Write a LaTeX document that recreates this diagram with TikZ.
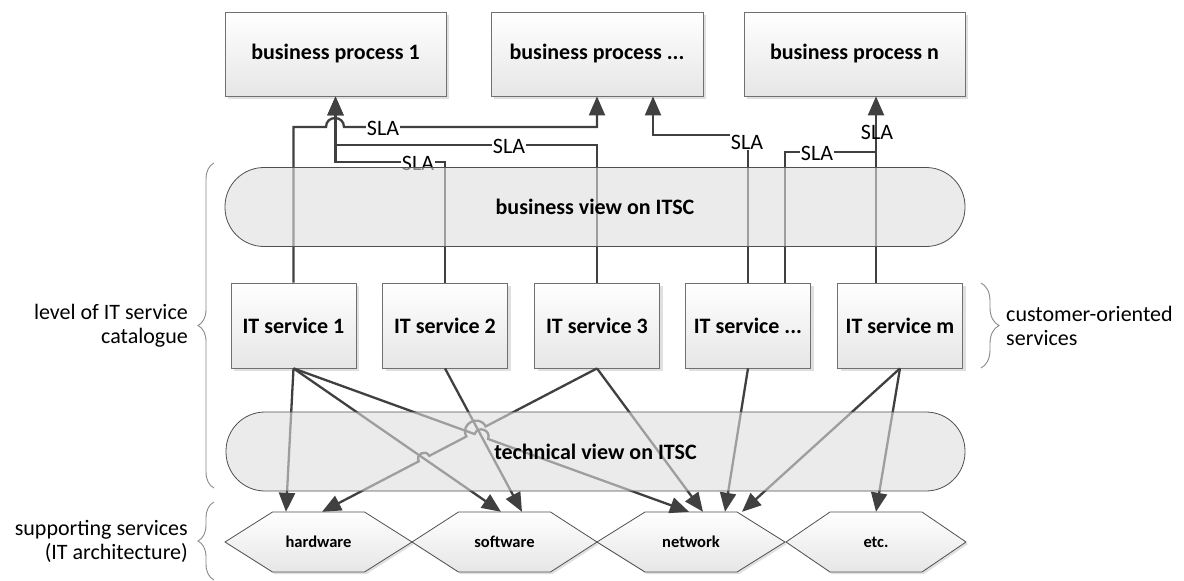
\documentclass[tikz,border=0pt]{standalone}
\usepackage{fontspec}
\setmainfont{Carlito}
\usetikzlibrary{arrows.meta,shadows,decorations.pathreplacing,calc}
\definecolor{linec}{HTML}{404040}
\definecolor{bordc}{HTML}{707070}
\definecolor{viewbord}{HTML}{505050}
\definecolor{boxbot}{HTML}{E6E6E6}
\definecolor{viewfill}{HTML}{DEDEDE}
\definecolor{bracec}{HTML}{8A8A8A}
\tikzset{
  box/.style={draw=bordc, line width=0.8pt, top color=white, bottom color=boxbot, inner sep=0pt,
    font=\bfseries\fontsize{22}{26}\selectfont,
    drop shadow={shadow xshift=3pt, shadow yshift=-3pt, opacity=0.12, fill=black}},
  bpbox/.style={box, minimum height=84pt},
  itbox/.style={box, minimum width=125pt, minimum height=85pt},
  viewbox/.style={draw=viewbord, line width=0.8pt, fill=viewfill, fill opacity=0.6, text opacity=1,
    rounded corners=39pt, minimum height=79pt, inner sep=0pt,
    font=\bfseries\fontsize{22}{26}\selectfont},
  hexfill/.style={draw=viewbord, line width=0.8pt, top color=white, bottom color=boxbot,
    drop shadow={shadow xshift=2pt, shadow yshift=-2pt, opacity=0.12, fill=black}},
  hexlabel/.style={inner sep=0pt, minimum width=92pt, minimum height=60pt,
    font=\bfseries\fontsize{16.5}{20}\selectfont},
  conn/.style={draw=linec, line width=2.3pt, -{Triangle[length=19pt,width=16pt]}},
  plainconn/.style={draw=linec, line width=2.3pt},
  slalab/.style={fill=white, inner sep=1pt, font=\fontsize{22}{26}\selectfont},
  slaclear/.style={inner sep=1pt, font=\fontsize{22}{26}\selectfont},
  sidelab/.style={font=\fontsize{22}{24}\selectfont, inner sep=0pt},
  bracedeco/.style={draw=bracec, line width=0.9pt, decorate, decoration={brace, amplitude=#1}},
  bumpl/.style={bend left=90, looseness=1.7},
  bumpr/.style={bend right=90, looseness=1.7},
}
\newcommand{\hexshape}[4]{%
  \path[hexfill] (#2-#3,542) -- (#2-46,512) -- (#2+46,512) -- (#2+#3,542) -- (#2+46,572) -- (#2-46,572) -- cycle;
  \node[hexlabel] (#1) at (#2,542) {#4};
}
\begin{document}
\begin{tikzpicture}[x=1pt,y=-1pt]
\useasboundingbox (0,0) rectangle (1184,581);
\fill[white] (0,0) rectangle (1184,581);

% business processes
\node[bpbox, minimum width=221pt] (bp1) at (335.5,54) {business process 1};
\node[bpbox, minimum width=212pt] (bp2) at (597,54) {business process ...};
\node[bpbox, minimum width=221pt] (bpn) at (854.5,54) {business process n};

% IT services
\node[itbox] (it1) at (293.5,325.5) {IT service 1};
\node[itbox] (it2) at (445,325.5) {IT service 2};
\node[itbox] (it3) at (597,325.5) {IT service 3};
\node[itbox] (it4) at (748,325.5) {IT service ...};
\node[itbox] (itm) at (900,325.5) {IT service m};

% supporting services
\hexshape{hw}{318.5}{93.5}{hardware}
\hexshape{sw}{504.5}{92.5}{software}
\hexshape{nw}{691}{94}{network}
\hexshape{etc}{876}{90}{etc.}

% SLA connectors
\coordinate (j2) at (335.5,162);
\coordinate (j3) at (335.5,145);
\coordinate (j4) at (748,135);
\coordinate (j5) at (876,152);
\draw[conn] (it1.north) |- (326,127) to[bumpl] (344,127) -| (bp2.south);
\draw[conn] (it3.north) |- (j3) -- (bp1.south);
\draw[conn] (it2.north) |- (j2) -- (bp1.south);
\draw[conn] (it4.north) |- (j4) -| ([xshift=56pt]bp2.south);
\draw[plainconn] ([xshift=37pt]it4.north) |- (j5);
\draw[conn] ([xshift=-24pt]itm.north) -- ([xshift=21.5pt]bpn.south);

\node[slalab] (s1) at (383,128) {SLA};
\node[slalab] (s2) at (509,146) {SLA};
\node[slalab] (s3) at (418,163) {SLA};
\node[slalab] (s4) at (747,142) {SLA};
\node[slalab] (s5) at (817,153) {SLA};
\node[slaclear] (s6) at (877,132) {SLA};

% dependency connectors
\coordinate (tE) at ([xshift=-32.5pt]hw.north);
\coordinate (tC) at ([xshift=3.5pt]hw.north);
\coordinate (tD) at ([xshift=-3.5pt]sw.north);
\coordinate (tB) at ([xshift=17.5pt]sw.north);
\coordinate (tA) at ([xshift=-2pt]nw.north);
\coordinate (tF) at ([xshift=12pt]nw.north);
\coordinate (tG) at ([xshift=34pt]nw.north);
\coordinate (tH) at ([xshift=51pt]nw.north);
\coordinate (tI) at (etc.north);

\draw[conn] (it1.south) -- (tE);
\draw[conn] (it1.south) -- (tD);
\draw[conn] (it2.south) -- (tB);
\draw[conn] (it1.south) -- ($(it1.south)!0.458!(tA)$) to[bumpl] ($(it1.south)!0.492!(tA)$) -- (tA);
\draw[conn] (it3.south) -- ($(it3.south)!0.405!(tC)$) to[bumpr] ($(it3.south)!0.475!(tC)$)
   -- ($(it3.south)!0.61!(tC)$) to[bumpr] ($(it3.south)!0.648!(tC)$) -- (tC);
\draw[conn] (it3.south) -- (tF);
\draw[conn] (it4.south) -- (tG);
\draw[conn] (itm.south) -- (tH);
\draw[conn] (itm.south) -- (tI);

% views (translucent, over the connectors)
\node[viewbox, minimum width=740pt] (bv) at (595,207) {business view on ITSC};
\node[viewbox, minimum width=739pt] (tv) at (595.5,451.5) {technical view on ITSC};

% braces and side labels
\draw[bracedeco=16pt] (214,488) -- (214,163);
\draw[bracedeco=16pt] (214,580) -- (214,502);
\draw[bracedeco=18pt] (981,283) -- (981,368);
\node[sidelab, anchor=east, align=right] (lev) at (188,326) {level of IT service\\catalogue};
\node[sidelab, anchor=east, align=right] (sup) at (188,541) {supporting services\\(IT architecture)};
\node[sidelab, anchor=west, align=left] (cust) at (1006,326) {customer-oriented\\services};
\end{tikzpicture}
\end{document}
